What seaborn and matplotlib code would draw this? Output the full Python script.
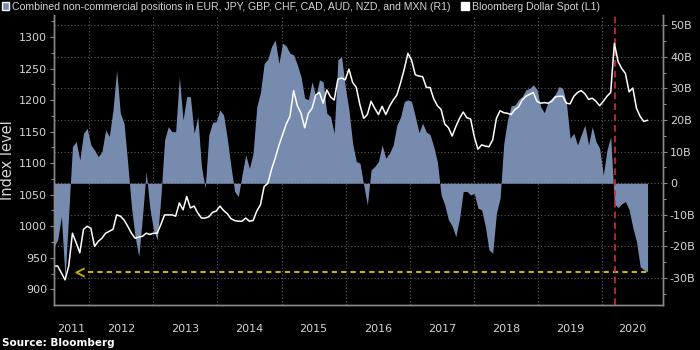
import pandas as pd
import matplotlib
matplotlib.use('Agg')
import matplotlib.pyplot as plt
import matplotlib.dates as mdates
from matplotlib.ticker import MultipleLocator, FixedLocator, FixedFormatter, NullFormatter, FuncFormatter
from matplotlib.patches import Patch
from matplotlib.path import Path
import seaborn as sns

# 3-weekly samples, mid-2011 .. Sep 2020
start_date = '2011-06-15'
step = '21D'

# combined non-commercial positions, $bn (right axis)
positions_bn = [
    -20.0, -17.9, -10.5, -30.0, -9.5, 11.6, 13.2, 7.4, 15.8, 17.4,
    12.1, 10.5, 8.4, 10.0, 16.9, 14.8, 23.2, 35.8, 22.1, 19.0,
    6.3, -7.4, -16.9, -23.2, -10.5, 3.7, -7.9, -14.8, -17.9, -4.2,
    13.7, 17.9, 16.3, 16.3, 33.7, 20.0, 27.4, 27.4, 15.8, 21.1,
    5.3, -1.6, 15.3, 19.2, 19.5, 23.2, 21.6, 14.2, 5.3, -2.6,
    -4.2, 2.6, 9.0, 4.7, 9.5, 24.2, 28.7, 37.9, 39.2, 43.2,
    45.3, 37.9, 44.3, 43.4, 41.1, 40.6, 37.5, 33.7, 26.9, 26.4,
    32.1, 27.4, 32.7, 32.1, 22.1, 21.1, 15.8, 39.0, 40.1, 30.6,
    23.2, 12.6, 6.9, 6.3, -0.5, -6.9, 4.2, 5.3, 6.9, 12.1,
    7.9, 9.5, 12.1, 18.4, 20.9, 25.8, 26.4, 25.8, 21.1, 16.0,
    19.0, 16.2, 15.4, 11.6, 6.7, -3.7, -6.9, -11.6, -13.5, -16.9,
    -11.1, -2.6, -2.6, -3.7, -3.2, -7.9, -8.4, -13.7, -21.1, -22.1,
    -9.5, -4.7, 12.6, 20.0, 24.5, 24.7, 26.4, 27.4, 29.5, 30.0,
    31.1, 29.7, 24.2, 22.3, 25.7, 26.9, 28.2, 30.6, 30.0, 25.3,
    14.2, 15.8, 12.1, 15.3, 18.4, 12.1, 17.9, 13.2, 11.1, 2.6,
    10.5, 14.8, -6.5, -7.7, -6.5, -5.8, -8.4, -14.0, -18.4, -26.4,
    -27.4, -28.0,
]

# Bloomberg Dollar Spot index (left axis)
dollar_index = [
    937, 937, 926, 915, 937, 989, 974, 958, 995, 1000,
    997, 968, 976, 981, 989, 992, 995, 1018, 1016, 1010,
    1000, 989, 981, 983, 984, 989, 987, 989, 989, 1003,
    1018, 1018, 1018, 1016, 1037, 1026, 1047, 1029, 1032, 1021,
    1013, 1013, 1015, 1022, 1024, 1032, 1025, 1020, 1012, 1009,
    1008, 1008, 1013, 1008, 1009, 1024, 1034, 1063, 1068, 1090,
    1108, 1128, 1145, 1162, 1174, 1215, 1191, 1179, 1156, 1179,
    1187, 1208, 1212, 1195, 1216, 1205, 1200, 1233, 1235, 1232,
    1249, 1228, 1220, 1192, 1171, 1177, 1198, 1187, 1177, 1190,
    1177, 1190, 1200, 1208, 1227, 1249, 1274, 1263, 1240, 1238,
    1237, 1220, 1220, 1202, 1191, 1185, 1162, 1156, 1143, 1158,
    1171, 1181, 1172, 1170, 1142, 1122, 1129, 1127, 1126, 1137,
    1171, 1183, 1180, 1179, 1177, 1185, 1189, 1200, 1206, 1209,
    1212, 1198, 1195, 1196, 1195, 1198, 1205, 1206, 1206, 1195,
    1194, 1206, 1212, 1215, 1210, 1201, 1203, 1198, 1191, 1198,
    1206, 1212, 1290, 1261, 1250, 1242, 1213, 1219, 1187, 1174,
    1166, 1168,
]

years = [2011, 2012, 2013, 2014, 2015, 2016, 2017, 2018, 2019, 2020]
x_range = ('2011-06-15', '2020-12-13')
shock_date = '2020-03-16'
arrow_date = '2011-11-12'
dash_start = '2011-12-26'

label_pos = 'Combined non-commercial positions in EUR, JPY, GBP, CHF, CAD, AUD, NZD, and MXN (R1)'
label_idx = 'Bloomberg Dollar Spot (L1)'

fill_color = '#768bad'
yellow = '#c9b400'
red = '#e3262f'
spine_gray = '#8a8a8a'
text_gray = '#d4d4d4'

df = pd.DataFrame({
    'date': pd.date_range(start_date, periods=len(positions_bn), freq=step),
    'positions': positions_bn,
    'index': dollar_index,
})

sns.set_style('dark', rc={
    'axes.facecolor': 'black',
    'figure.facecolor': 'black',
    'axes.edgecolor': spine_gray,
    'text.color': text_gray,
    'axes.labelcolor': text_gray,
    'xtick.color': spine_gray,
    'ytick.color': spine_gray,
})
plt.rcParams['font.family'] = ['DejaVu Sans']

fig = plt.figure(figsize=(7, 3.5), dpi=100)
ax = fig.add_axes([54 / 700, 45 / 350, 609 / 700, 290 / 350])

# positions as area on the right axis
ax.fill_between(df['date'], 0, df['positions'], color=fill_color, lw=0, zorder=2)
level = df['positions'].iloc[-1]
ax.plot([pd.Timestamp(dash_start), df['date'].iloc[-1]], [level, level],
        color=yellow, lw=1.5, ls=(0, (2.5, 2)), zorder=3)
chevron = Path([(1, 1), (-1, 0), (1, -1)], [Path.MOVETO, Path.LINETO, Path.LINETO])
ax.plot([pd.Timestamp(arrow_date)], [level], marker=chevron, ms=6, mfc='none',
        mec=yellow, mew=1.3, ls='none', zorder=3)

# dollar index line on the left axis
axl = ax.twinx()
axl.axvline(pd.Timestamp(shock_date), color=red, lw=1.2, ls=(0, (4, 2.5)), zorder=1)
sns.lineplot(data=df, x='date', y='index', ax=axl, color='white', lw=1.1, zorder=2)

ax.yaxis.tick_right()
ax.yaxis.set_label_position('right')
axl.yaxis.tick_left()
axl.yaxis.set_label_position('left')

ax.set_ylim(-38.5, 53.2)
axl.set_ylim(875.2, 1334.8)

ax.yaxis.set_major_locator(MultipleLocator(10))
ax.yaxis.set_minor_locator(MultipleLocator(5))
ax.yaxis.set_major_formatter(FuncFormatter(lambda v, p: '0' if v == 0 else f'{v:.0f}B'))
axl.yaxis.set_major_locator(MultipleLocator(50))
axl.yaxis.set_minor_locator(MultipleLocator(25))

ax.set_ylabel('')
axl.set_ylabel('Index level', fontsize=10.5, color=text_gray, labelpad=3)
axl.set_xlabel('')

# x axis: year boundaries as long ticks, labels centred in each year
x0, x1 = pd.Timestamp(x_range[0]), pd.Timestamp(x_range[1])
bounds = [pd.Timestamp(f'{y}-01-01') for y in years[1:]]
edges = mdates.date2num([x0] + bounds + [x1])
mids = [(a + b) / 2 for a, b in zip(edges[:-1], edges[1:])]
ax.xaxis.set_major_locator(FixedLocator(mdates.date2num(bounds)))
ax.xaxis.set_major_formatter(NullFormatter())
ax.xaxis.set_minor_locator(FixedLocator(mids))
ax.xaxis.set_minor_formatter(FixedFormatter([str(y) for y in years]))
ax.set_xlim(x0, x1)
ax.set_xlabel('')

ax.tick_params(axis='x', which='major', length=22, width=0.8, color=spine_gray)
ax.tick_params(axis='x', which='minor', length=0, pad=14, labelsize=8, labelcolor=text_gray)
ax.tick_params(axis='y', which='major', length=3, width=0.8, pad=2, labelsize=8,
               labelcolor=text_gray, right=True, left=False)
ax.tick_params(axis='y', which='minor', length=2, width=0.8, right=True, left=False)
axl.tick_params(axis='y', which='major', length=3, width=0.8, pad=2, labelsize=8,
                labelcolor=text_gray)
axl.tick_params(axis='y', which='minor', length=2, width=0.8)

ax.set_axisbelow(True)
ax.grid(axis='both', which='major', color='#5c5c5c', ls=(0, (1, 2)), lw=0.8)
ax.grid(axis='x', which='minor', visible=False)
axl.grid(False)

for a in (ax, axl):
    a.spines['top'].set_visible(False)
    for s in ('left', 'right', 'bottom'):
        a.spines[s].set_color(spine_gray)
        a.spines[s].set_linewidth(1)

handles = [Patch(facecolor=fill_color, label=label_pos),
           Patch(facecolor='white', label=label_idx)]
fig.legend(handles=handles, loc='upper left', bbox_to_anchor=(0.0, 1.0), ncol=2,
           frameon=False, handlelength=0.7, handleheight=0.7,
           handletextpad=0.3, columnspacing=1.0, borderpad=0.15, borderaxespad=0,
           labelcolor=text_gray,
           prop={'family': ['Liberation Sans', 'DejaVu Sans'], 'size': 7.6})

fig.text(0.003, 0.02, 'Source: Bloomberg', fontsize=7.5, fontweight='bold',
         color='white', va='center', ha='left')

fig.savefig('out.png', dpi=100, facecolor='black')
